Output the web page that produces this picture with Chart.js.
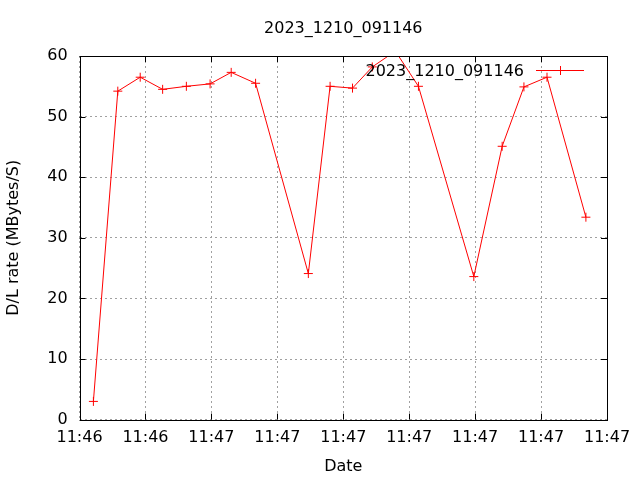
<!DOCTYPE html>
<html>
<head>
<meta charset="utf-8">
<script src="https://cdn.jsdelivr.net/npm/chart.js@4/dist/chart.umd.min.js"></script>
<style>
  html, body { margin: 0; padding: 0; background: #fff; }
  #wrap { width: 640px; height: 480px; }
</style>
</head>
<body>
<div id="wrap"><canvas id="c"></canvas></div>
<script>
// 측정 시각 (첫 눈금 기준 초) 과 다운로드 속도
const runName = '2023_1210_091146';
const timeSecs = [2.1, 5.8, 9.2, 12.6, 16.2, 19.8, 23.0, 26.7, 34.7, 38.0, 41.4, 44.4, 47.9, 51.4, 59.8, 64.1, 67.4, 70.9, 76.8];
const rates    = [3.0, 54.2, 56.5, 54.5, 55.0, 55.4, 57.3, 55.5, 24.1, 55.0, 54.7, 58.2, 60.8, 55.0, 23.6, 45.1, 54.9, 56.5, 33.4];
const xTickLabels = ['11:46', '11:46', '11:47', '11:47', '11:47', '11:47', '11:47', '11:47', '11:47'];
const yTickValues = [0, 10, 20, 30, 40, 50, 60];

const FONT = "'DejaVu Sans', sans-serif";
const lineRed = '#ff0000';

// gnuplot 스타일: 제목(플롯 영역 가운데), 테두리 + 안쪽 눈금, 범례(텍스트 오른쪽에 샘플)
const gnuFrame = {
  id: 'gnuFrame',
  afterDatasetsDraw(chart) {
    const { ctx, chartArea: a, scales } = chart;
    const tick = 6;
    ctx.save();

    ctx.font = '16px ' + FONT;
    ctx.fillStyle = '#000';
    ctx.textAlign = 'center';
    ctx.textBaseline = 'middle';
    ctx.fillText(runName, (a.left + a.right) / 2, 29);

    ctx.strokeStyle = '#000';
    ctx.lineWidth = 1;
    ctx.beginPath();
    scales.x.ticks.forEach(t => {
      const px = Math.round(scales.x.getPixelForValue(t.value)) + 0.5;
      ctx.moveTo(px, a.bottom); ctx.lineTo(px, a.bottom - tick);
      ctx.moveTo(px, a.top); ctx.lineTo(px, a.top + tick);
    });
    scales.y.ticks.forEach(t => {
      const py = Math.round(scales.y.getPixelForValue(t.value)) + 0.5;
      ctx.moveTo(a.left, py); ctx.lineTo(a.left + tick, py);
      ctx.moveTo(a.right, py); ctx.lineTo(a.right - tick, py);
    });
    ctx.stroke();
    ctx.strokeRect(Math.round(a.left) + 0.5, Math.round(a.top) + 0.5,
      Math.round(a.right - a.left), Math.round(a.bottom - a.top));

    // 범례
    const ds = chart.data.datasets[0];
    const ly = a.top + 14;
    ctx.textAlign = 'right';
    ctx.fillText(ds.label, a.right - 83, ly + 2);
    ctx.strokeStyle = lineRed;
    ctx.beginPath();
    ctx.moveTo(a.right - 71, ly + 0.5); ctx.lineTo(a.right - 23, ly + 0.5);
    const mx = a.right - 47;
    ctx.moveTo(mx + 0.5, ly - 4); ctx.lineTo(mx + 0.5, ly + 5);
    ctx.moveTo(mx - 4, ly + 0.5); ctx.lineTo(mx + 5, ly + 0.5);
    ctx.stroke();
    ctx.restore();
  }
};

new Chart(document.getElementById('c'), {
  type: 'line',
  data: {
    datasets: [{
      label: runName,
      data: timeSecs.map((t, i) => ({ x: t, y: rates[i] })),
      borderColor: lineRed,
      backgroundColor: lineRed,
      borderWidth: 1,
      pointStyle: 'cross',
      pointRadius: 4.5,
      pointBorderWidth: 1,
      tension: 0
    }]
  },
  options: {
    responsive: true,
    maintainAspectRatio: false,
    animation: false,
    layout: { padding: { left: 4, right: 33, top: 56, bottom: 4 } },
    plugins: {
      legend: { display: false },
      tooltip: { enabled: false },
      title: { display: false }
    },
    scales: {
      x: {
        type: 'linear',
        min: 0, max: 80,
        ticks: {
          stepSize: 10,
          color: '#000',
          font: { family: FONT, size: 16 },
          padding: 9,
          maxRotation: 0,
          callback: (v, i) => xTickLabels[i]
        },
        grid: { color: '#a0a0a0', drawTicks: false },
        border: { display: false, dash: [2, 3] },
        title: {
          display: true, text: 'Date', color: '#000',
          font: { family: FONT, size: 16 },
          padding: { top: 0, bottom: 0 }
        }
      },
      y: {
        min: 0, max: 60,
        afterBuildTicks: s => { s.ticks = yTickValues.map(v => ({ value: v })); },
        ticks: {
          color: '#000',
          font: { family: FONT, size: 16 },
          padding: 12
        },
        grid: { color: '#a0a0a0', drawTicks: false },
        border: { display: false, dash: [2, 3] },
        title: {
          display: true, text: 'D/L rate (MBytes/S)', color: '#000',
          font: { family: FONT, size: 16 },
          padding: { top: 0, bottom: 12 }
        }
      }
    }
  },
  plugins: [gnuFrame]
});
</script>
</body>
</html>
